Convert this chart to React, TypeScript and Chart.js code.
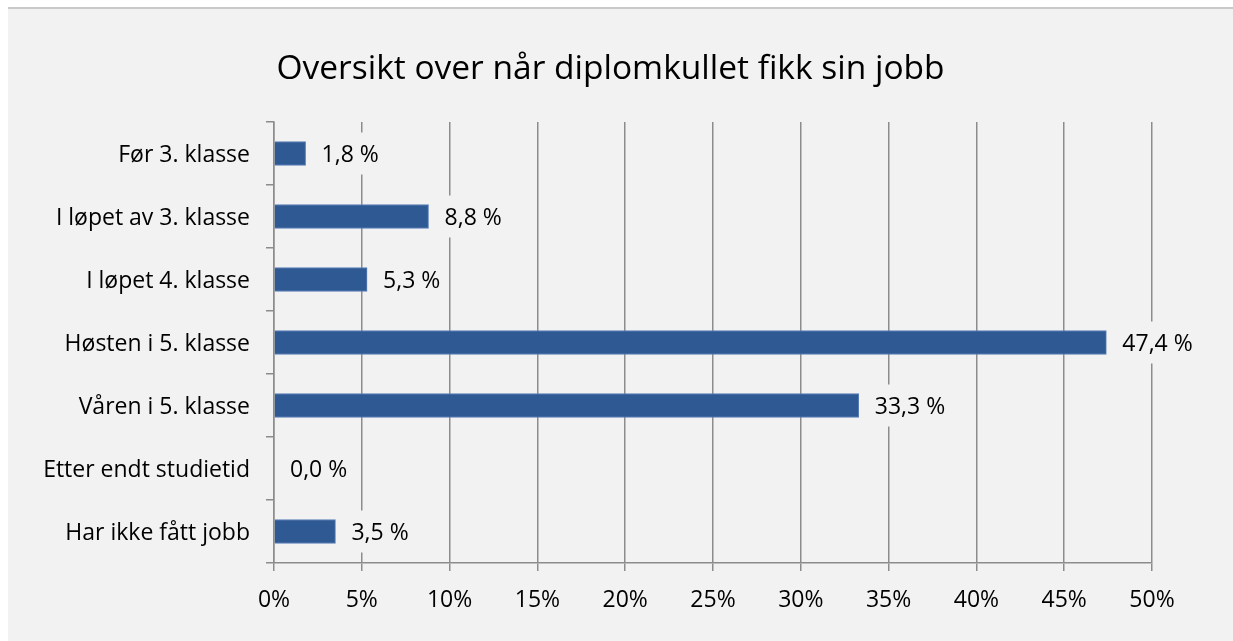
import React, { useEffect, useRef } from 'react';
import { Chart, registerables } from 'chart.js';

Chart.register(...registerables);

const chartTitle = 'Oversikt over når diplomkullet fikk sin jobb';
const categories = [
  'Før 3. klasse',
  'I løpet av 3. klasse',
  'I løpet 4. klasse',
  'Høsten i 5. klasse',
  'Våren i 5. klasse',
  'Etter endt studietid',
  'Har ikke fått jobb',
];
const values = [1.8, 8.8, 5.3, 47.4, 33.3, 0.0, 3.5];
const xTickValues = [0, 5, 10, 15, 20, 25, 30, 35, 40, 45, 50];
const xTickLabels = ['0%', '5%', '10%', '15%', '20%', '25%', '30%', '35%', '40%', '45%', '50%'];

const FONT = '"Open Sans", "Noto Sans", sans-serif';
const BG = '#f2f2f2';
const GRID = '#8c8c8c';

const formatValue = (v: number) => v.toFixed(1).replace('.', ',') + ' %';

const valueLabelPlugin = {
  id: 'valueLabels',
  afterDatasetsDraw(chart: any) {
    const ctx = chart.ctx as CanvasRenderingContext2D;
    const meta = chart.getDatasetMeta(0);
    ctx.save();
    ctx.font = `23px ${FONT}`;
    ctx.textBaseline = 'middle';
    ctx.textAlign = 'left';
    meta.data.forEach((bar: any, i: number) => {
      const text = formatValue(values[i]);
      const w = ctx.measureText(text).width;
      const tx = bar.x + 16;
      ctx.fillStyle = BG;
      ctx.fillRect(tx - 7, bar.y - 21, w + 15, 42);
      ctx.fillStyle = '#000';
      ctx.fillText(text, tx, bar.y + 2);
    });
    ctx.restore();
  },
};

const titlePlugin = {
  id: 'customTitle',
  afterDraw(chart: any) {
    const ctx = chart.ctx as CanvasRenderingContext2D;
    ctx.save();
    ctx.font = `33.5px ${FONT}`;
    ctx.fillStyle = '#000';
    ctx.textAlign = 'center';
    ctx.textBaseline = 'middle';
    ctx.fillText(chartTitle, chart.width / 2 - 10, 60);
    ctx.restore();
  },
};

export default function App() {
  const canvasRef = useRef<HTMLCanvasElement | null>(null);

  useEffect(() => {
    if (!canvasRef.current) return;
    const chart = new Chart(canvasRef.current, {
      type: 'bar',
      data: {
        labels: categories,
        datasets: [
          {
            data: values,
            backgroundColor: '#2E5993',
            borderColor: '#5B80B8',
            borderWidth: 1,
            barThickness: 24,
          },
        ],
      },
      plugins: [valueLabelPlugin, titlePlugin],
      options: {
        indexAxis: 'y',
        responsive: false,
        animation: false,
        layout: { padding: { left: 0, right: 81, top: 113, bottom: 0 } },
        plugins: {
          legend: { display: false },
          tooltip: { enabled: false },
          title: { display: false },
        },
        scales: {
          x: {
            type: 'linear',
            min: 0,
            max: 50,
            afterBuildTicks: (scale: any) => {
              scale.ticks = xTickValues.map((v) => ({ value: v }));
            },
            afterFit: (scale: any) => {
              scale.height = 78;
            },
            ticks: {
              callback: (_v: any, i: number) => xTickLabels[i],
              font: { family: FONT, size: 23 },
              color: '#000',
              padding: 16,
              maxRotation: 0,
              autoSkip: false,
            },
            grid: { color: GRID, lineWidth: 1.5, tickLength: 8, drawTicks: true },
            border: { color: GRID, width: 1.5 },
          },
          y: {
            type: 'category',
            afterFit: (scale: any) => {
              scale.width = 266;
            },
            ticks: {
              font: { family: FONT, size: 23 },
              color: '#000',
              padding: 16,
              labelOffset: 2,
              autoSkip: false,
            },
            grid: {
              drawOnChartArea: false,
              color: GRID,
              lineWidth: 1.5,
              tickLength: 8,
              offset: true,
            },
            border: { color: GRID, width: 1.5 },
          },
        },
      } as any,
    });
    return () => chart.destroy();
  }, []);

  return (
    <div
      style={{
        position: 'absolute',
        left: 8,
        top: 7,
        right: 0,
        bottom: 0,
        background: BG,
        borderTop: '2px solid #c9c9c9',
        overflow: 'hidden',
      }}
    >
      <canvas ref={canvasRef} width={1225} height={632} style={{ display: 'block' }} />
    </div>
  );
}
